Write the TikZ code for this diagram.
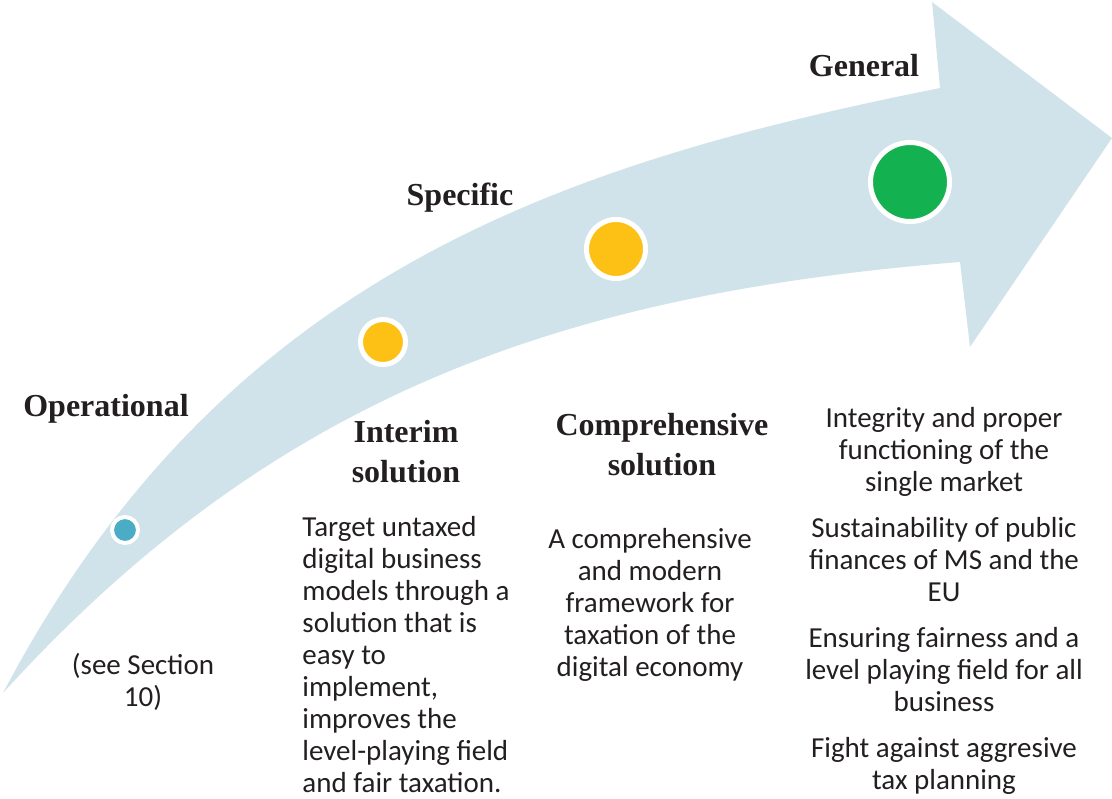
\documentclass[tikz,border=0pt]{standalone}
\usepackage{fontspec}
\setmainfont{Carlito}
\newfontfamily\headfont{Liberation Serif}
\definecolor{bandblue}{HTML}{D1E3EA}
\definecolor{dotblue}{HTML}{4BACC6}
\definecolor{dotyellow}{HTML}{FDC116}
\definecolor{dotgreen}{HTML}{13B14F}
\definecolor{txtgrey}{HTML}{231F20}
\tikzstyle{heading} = [font=\headfont\bfseries\fontsize{16}{20}\selectfont, text=txtgrey,
align=center, inner sep=0pt]
\tikzstyle{body} = [font=\fontsize{14.5}{16}\selectfont, text=txtgrey, inner sep=0pt]
\tikzstyle{dot} = [circle, draw=white, line width=2.5pt, inner sep=0pt]

\begin{document}
\begin{tikzpicture}[x=0.5pt, y=-0.5pt, node distance=2cm]
\useasboundingbox (0,0) rectangle (1112,798);

% ------------------------- arrow -------------------------
\fill[bandblue] (3,693) .. controls (223,275) and (560,164) .. (940,88) -- (932,2) -- (1112,138)
  -- (970,347) -- (960,262) .. controls (560,294) and (273,396) .. (3,693) -- cycle;

% ------------------------- nodes -------------------------
% ----- dots on the arrow
\node(d1)[dot, fill=dotblue, minimum size=13pt, line width=2pt] at (125,530) {};
\node(d2)[dot, fill=dotyellow, minimum size=22.5pt] at (383,342) {};
\node(d3)[dot, fill=dotyellow, minimum size=29.5pt] at (616,249) {};
\node(d4)[dot, fill=dotgreen, minimum size=39.5pt] at (910,182) {};
% ----- levels
\node(op)[heading] at (106,409) {Operational};
\node(spec)[heading] at (460,198) {Specific};
\node(gen)[heading] at (864,66) {General};
% ----- operational
\node(see)[body, align=center] at (143,682) {(see Section\\10)};
% ----- interim
\node(interim)[heading] at (406,452) {Interim\\solution};
\node(intbody)[body, align=left, below of=interim, yshift=-44.6pt]{Target untaxed\\digital business\\models through a\\solution that is\\easy to\\implement,\\improves the\\level-playing field\\and fair taxation.};
% ----- comprehensive
\node(compr)[heading] at (662,445) {Comprehensive\\solution};
\node(compbody)[body, align=center, below of=compr, xshift=-6pt, yshift=-23pt]{A comprehensive\\and modern\\framework for\\taxation of the\\digital economy};
% ----- general
\node(genbody)[body, align=center] at (944,601) {Integrity and proper\\functioning of the\\single market\\[7pt]Sustainability of public\\finances of MS and the\\EU\\[7pt]Ensuring fairness and a\\level playing field for all\\business\\[7pt]Fight against aggresive\\tax planning};
\end{tikzpicture}
\end{document}
